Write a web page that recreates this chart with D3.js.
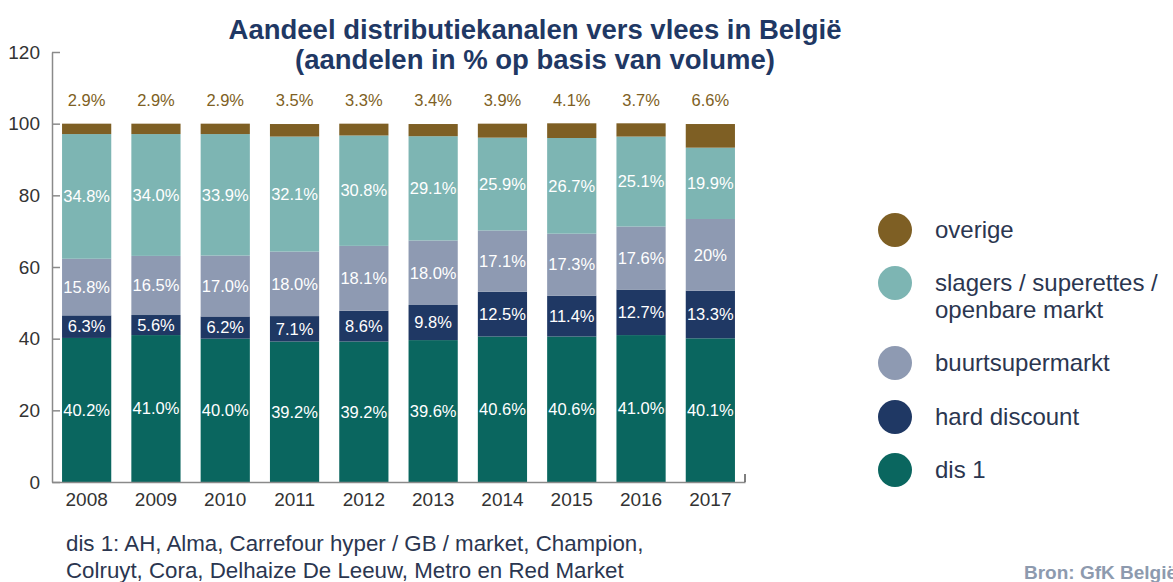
<!DOCTYPE html>
<html>
<head>
<meta charset="utf-8">
<script src="https://cdn.jsdelivr.net/npm/d3@7"></script>
<style>
  body { margin: 0; background: #fff; }
  svg { font-family: "Liberation Sans", Arial, sans-serif; display: block; }
</style>
</head>
<body>
<svg width="1173" height="582"></svg>
<script>
// data
var years = ["2008", "2009", "2010", "2011", "2012", "2013", "2014", "2015", "2016", "2017"];
var dis1 = [40.2, 41.0, 40.0, 39.2, 39.2, 39.6, 40.6, 40.6, 41.0, 40.1];
var hardDiscount = [6.3, 5.6, 6.2, 7.1, 8.6, 9.8, 12.5, 11.4, 12.7, 13.3];
var buurtsupermarkt = [15.8, 16.5, 17.0, 18.0, 18.1, 18.0, 17.1, 17.3, 17.6, 20];
var slagers = [34.8, 34.0, 33.9, 32.1, 30.8, 29.1, 25.9, 26.7, 25.1, 19.9];
var overige = [2.9, 2.9, 2.9, 3.5, 3.3, 3.4, 3.9, 4.1, 3.7, 6.6];
var yTicks = [0, 20, 40, 60, 80, 100, 120];

// bottom to top
var seriesNames = ["dis 1", "hard discount", "buurtsupermarkt", "slagers / superettes / openbare markt", "overige"];
var seriesValues = [dis1, hardDiscount, buurtsupermarkt, slagers, overige];
var colors = ["#0a665f", "#1f3864", "#8e9ab2", "#7db5b3", "#7e5f24"];

var svg = d3.select("svg");

var rows = years.map(function (y, i) {
  var r = { year: y };
  seriesNames.forEach(function (s, k) { r[s] = seriesValues[k][i]; });
  return r;
});
var stacked = d3.stack().keys(seriesNames)(rows);

var x = d3.scaleBand()
  .domain(years)
  .range([52, 745])
  .paddingInner(0.29)
  .paddingOuter(0.145);

var y = d3.scaleLinear()
  .domain([0, 120])
  .range([482, 52]);

var color = d3.scaleOrdinal().domain(seriesNames).range(colors);

// bars
var layer = svg.selectAll("g.layer")
  .data(stacked)
  .enter()
  .append("g")
    .attr("class", "layer")
    .attr("fill", d => color(d.key));

layer.selectAll("rect")
  .data(d => d)
  .enter()
  .append("rect")
    .attr("x", d => x(d.data.year))
    .attr("y", d => y(d[1]))
    .attr("width", x.bandwidth())
    .attr("height", d => y(d[0]) - y(d[1]));

// labels inside the bars (all but overige)
stacked.slice(0, 4).forEach(function (s, k) {
  svg.append("g")
    .selectAll("text")
    .data(s)
    .enter()
    .append("text")
      .attr("x", d => x(d.data.year) + x.bandwidth() / 2)
      .attr("y", d => y((d[0] + d[1]) / 2))
      .attr("dy", "0.35em")
      .attr("text-anchor", "middle")
      .attr("font-size", "16.5px")
      .attr("fill", "#fff")
      .text((d, i) => (seriesValues[k][i] === 20 ? "20" : seriesValues[k][i].toFixed(1)) + "%");
});

// overige labels above the bars
svg.append("g")
  .selectAll("text")
  .data(overige)
  .enter()
  .append("text")
    .attr("x", (d, i) => x(years[i]) + x.bandwidth() / 2)
    .attr("y", 100)
    .attr("dy", "0.35em")
    .attr("text-anchor", "middle")
    .attr("font-size", "16.5px")
    .attr("fill", "#7e5f24")
    .text(d => d.toFixed(1) + "%");

// axes
var yAxis = d3.axisLeft(y)
  .tickValues(yTicks)
  .tickSize(-8)
  .tickPadding(20)
  .tickSizeOuter(0);

var xAxis = d3.axisBottom(x)
  .tickSize(0)
  .tickPadding(11)
  .tickSizeOuter(0);

var gy = svg.append("g")
  .attr("transform", "translate(52,0)")
  .call(yAxis);

var gx = svg.append("g")
  .attr("transform", "translate(0,482)")
  .call(xAxis);

[gx, gy].forEach(function (g) {
  g.select(".domain").attr("stroke", "#8a8a8a").attr("stroke-width", 1.5);
  g.selectAll(".tick line").attr("stroke", "#8a8a8a").attr("stroke-width", 1.5);
  g.selectAll(".tick text").attr("fill", "#333").attr("font-size", "19px").attr("font-family", "Liberation Sans, Arial, sans-serif");
});
gy.selectAll(".tick text").attr("x", -12);

// end tick on the x axis
svg.append("line")
  .attr("x1", 745).attr("x2", 745)
  .attr("y1", 474).attr("y2", 482)
  .attr("stroke", "#555")
  .attr("stroke-width", 1.5);

// title
svg.append("text")
  .attr("x", 535)
  .attr("y", 39)
  .attr("text-anchor", "middle")
  .attr("font-size", "27.5px")
  .attr("font-weight", "bold")
  .attr("fill", "#1f3864")
  .text("Aandeel distributiekanalen vers vlees in België");

svg.append("text")
  .attr("x", 535)
  .attr("y", 69)
  .attr("text-anchor", "middle")
  .attr("font-size", "27.5px")
  .attr("font-weight", "bold")
  .attr("fill", "#1f3864")
  .text("(aandelen in % op basis van volume)");

// legend, top to bottom
var legendItems = [
  { name: "overige", lines: ["overige"], cy: 230 },
  { name: "slagers / superettes / openbare markt", lines: ["slagers / superettes /", "openbare markt"], cy: 283 },
  { name: "buurtsupermarkt", lines: ["buurtsupermarkt"], cy: 363 },
  { name: "hard discount", lines: ["hard discount"], cy: 417 },
  { name: "dis 1", lines: ["dis 1"], cy: 470 }
];

var legend = svg.append("g");
legendItems.forEach(function (item) {
  legend.append("circle")
    .attr("cx", 895)
    .attr("cy", item.cy)
    .attr("r", 17)
    .attr("fill", color(item.name));
  item.lines.forEach(function (line, j) {
    legend.append("text")
      .attr("x", 935)
      .attr("y", item.cy + j * 27)
      .attr("dy", "0.35em")
      .attr("font-size", "24px")
      .attr("fill", "#2b3650")
      .text(line);
  });
});

// footnote
svg.append("text")
  .attr("x", 66)
  .attr("y", 551)
  .attr("font-size", "22.3px")
  .attr("fill", "#2b3650")
  .text("dis 1: AH, Alma, Carrefour hyper / GB / market, Champion,");

svg.append("text")
  .attr("x", 66)
  .attr("y", 578)
  .attr("font-size", "22.3px")
  .attr("fill", "#2b3650")
  .text("Colruyt, Cora, Delhaize De Leeuw, Metro en Red Market");

svg.append("text")
  .attr("x", 1024)
  .attr("y", 579)
  .attr("font-size", "19px")
  .attr("font-weight", "bold")
  .attr("fill", "#8d9aae")
  .text("Bron: GfK België");
</script>
</body>
</html>
